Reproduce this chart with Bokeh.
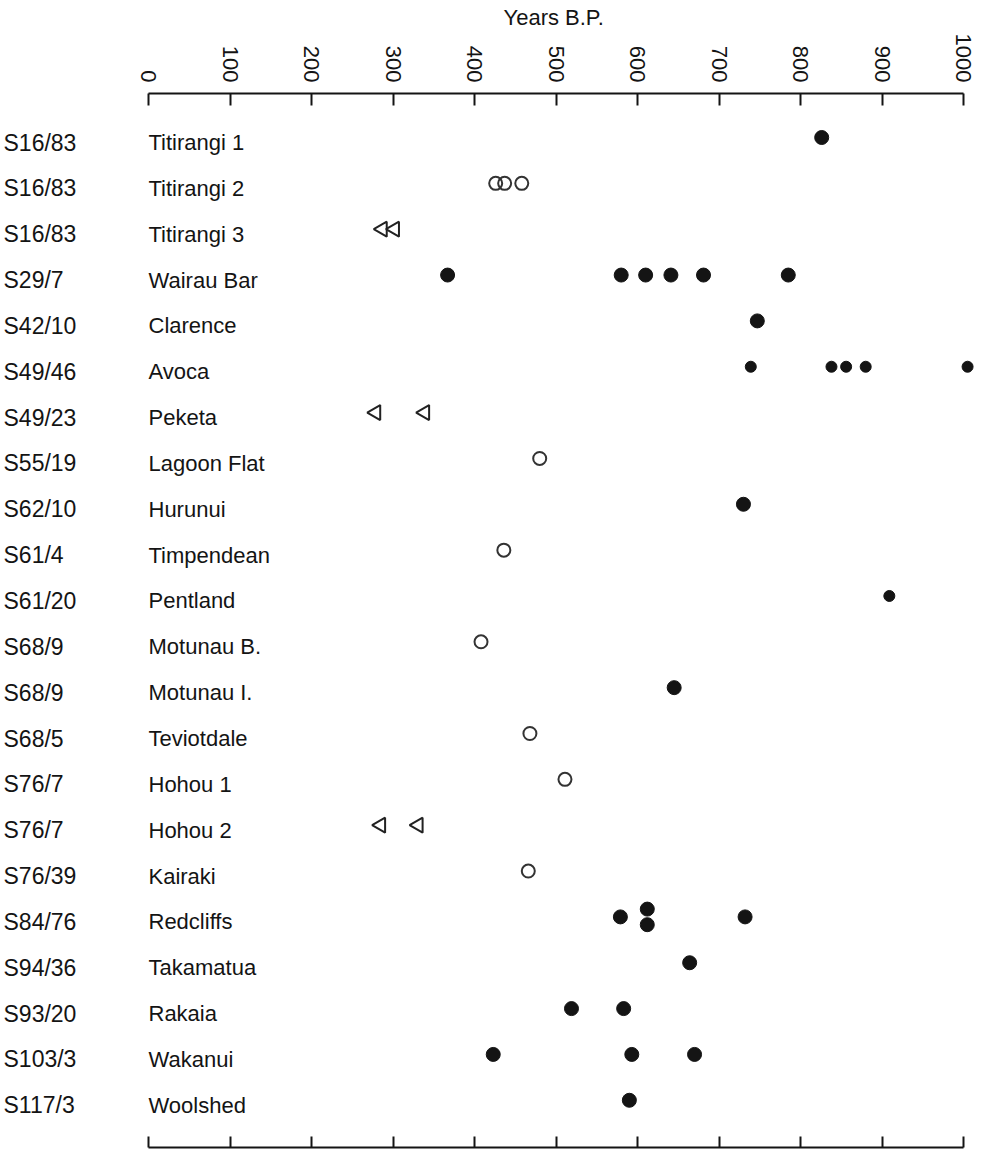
import math
from bokeh.plotting import figure
from bokeh.models import Range1d, LinearAxis, FixedTicker, Title, ColumnDataSource
from bokeh.core.properties import value
from bokeh.embed import file_html
from bokeh.resources import INLINE

# ---------------- data ----------------
codes = ["S16/83", "S16/83", "S16/83", "S29/7", "S42/10", "S49/46", "S49/23",
         "S55/19", "S62/10", "S61/4", "S61/20", "S68/9", "S68/9", "S68/5",
         "S76/7", "S76/7", "S76/39", "S84/76", "S94/36", "S93/20", "S103/3", "S117/3"]
names = ["Titirangi 1", "Titirangi 2", "Titirangi 3", "Wairau Bar", "Clarence", "Avoca",
         "Peketa", "Lagoon Flat", "Hurunui", "Timpendean", "Pentland", "Motunau B.",
         "Motunau I.", "Teviotdale", "Hohou 1", "Hohou 2", "Kairaki", "Redcliffs",
         "Takamatua", "Rakaia", "Wakanui", "Woolshed"]

# dates (years B.P.) by symbol type, keyed by site name
filled_dates = {
    "Titirangi 1": [826],
    "Wairau Bar": [367, 580, 610, 641, 681, 785],
    "Clarence": [747],
    "Hurunui": [730],
    "Motunau I.": [645],
    "Redcliffs": [579, 612, 612, 732],
    "Takamatua": [664],
    "Rakaia": [519, 583],
    "Wakanui": [423, 593, 670],
    "Woolshed": [590],
}
small_filled_dates = {
    "Avoca": [739, 838, 856, 880, 1005],
    "Pentland": [909],
}
open_dates = {
    "Titirangi 2": [426, 437, 458],
    "Lagoon Flat": [480],
    "Timpendean": [436],
    "Motunau B.": [408],
    "Teviotdale": [468],
    "Hohou 1": [511],
    "Kairaki": [466],
}
triangle_dates = {
    "Titirangi 3": [287, 302],
    "Peketa": [279, 339],
    "Hohou 2": [285, 331],
}
x_ticks = [0, 100, 200, 300, 400, 500, 600, 700, 800, 900, 1000]

# ---------------- helpers ----------------
FONT = "Liberation Sans"
INK = "#141414"
row_of = {n: i for i, n in enumerate(names)}


def flatten(d, stack_gap=0.34):
    """Row index for each date; equal dates in one row are stacked vertically."""
    xs, ys = [], []
    for name, vals in d.items():
        r = row_of[name]
        seen = {}
        for v in vals:
            k = vals.count(v)
            c = seen.get(v, 0)
            seen[v] = c + 1
            xs.append(v)
            ys.append(r + (c - (k - 1) / 2) * stack_gap if k > 1 else r)
    return ColumnDataSource(dict(x=xs, y=ys))


n = len(names)
W, H = 983, 1149
px_per_year = 0.815
x_start = -148 / px_per_year
x_end = x_start + W / px_per_year

p = figure(width=W, height=H, output_backend="svg", toolbar_location=None,
           x_axis_location=None, y_axis_location=None,
           x_range=Range1d(x_start, x_end), y_range=Range1d(n + 0.03, -0.96),
           min_border_left=0, min_border_right=0, min_border_top=93, min_border_bottom=2)
p.grid.visible = False
p.outline_line_color = None
p.background_fill_color = "white"
p.border_fill_color = "white"

top = LinearAxis(ticker=FixedTicker(ticks=x_ticks), bounds=(0, 1000),
                 major_tick_in=12, major_tick_out=0, minor_tick_line_color=None,
                 major_label_orientation=-math.pi / 2, major_label_standoff=11,
                 major_label_text_font=FONT, major_label_text_font_size="22px",
                 major_label_text_color=INK,
                 axis_line_width=2, axis_line_color=INK,
                 major_tick_line_width=2, major_tick_line_color=INK)
p.add_layout(top, "above")

bottom = LinearAxis(ticker=FixedTicker(ticks=x_ticks), bounds=(0, 1000),
                    major_tick_in=11, major_tick_out=0, minor_tick_line_color=None,
                    major_label_overrides={t: "" for t in x_ticks},
                    major_label_standoff=0,
                    axis_line_width=2, axis_line_color=INK,
                    major_tick_line_width=2, major_tick_line_color=INK)
p.add_layout(bottom, "below")

p.add_layout(Title(text="Years B.P.", align="left", offset=503, standoff=2,
                   text_font=FONT, text_font_size="22px", text_font_style="normal",
                   text_color=INK), "above")

rows = list(range(n))
lab = ColumnDataSource(dict(xc=[x_start] * n, xn=[0] * n, y=rows, code=codes, name=names))
p.text(x="xc", y="y", text="code", source=lab, text_font=value(FONT),
       text_font_size="23px", text_baseline="middle", text_align="left",
       text_color=INK, x_offset=3, y_offset=5)
p.text(x="xn", y="y", text="name", source=lab, text_font=value(FONT),
       text_font_size="22px", text_baseline="middle", text_align="left",
       text_color=INK, y_offset=5)

p.scatter(x="x", y="y", source=flatten(filled_dates), marker="circle", size=14,
          fill_color=INK, line_color=INK)
p.scatter(x="x", y="y", source=flatten(small_filled_dates), marker="circle", size=11,
          fill_color=INK, line_color=INK)
p.scatter(x="x", y="y", source=flatten(open_dates), marker="circle", size=13,
          fill_color=None, line_color="#333333", line_width=2)
p.scatter(x="x", y="y", source=flatten(triangle_dates), marker="triangle", size=15,
          angle=math.pi / 2, fill_color=None, line_color="#222222", line_width=2)

open("out.html", "w").write(file_html(p, INLINE))
